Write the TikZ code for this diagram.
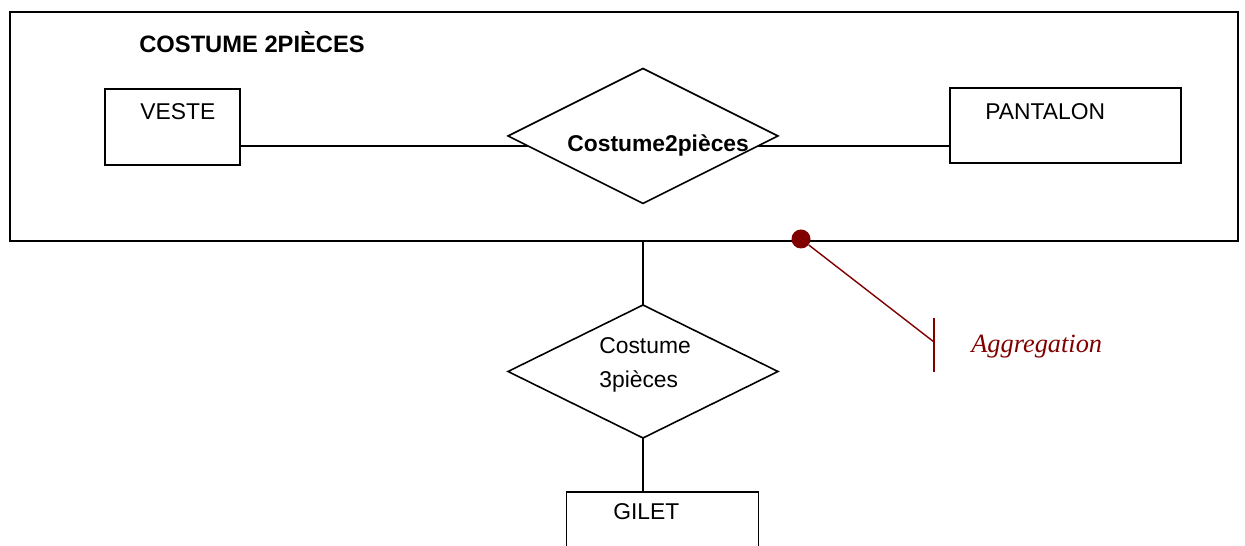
\documentclass[tikz,border=0pt]{standalone}
\usepackage{fontspec}
\setmainfont{Liberation Sans}
\newfontfamily\serifit{Liberation Serif}
\usepackage{tikz}
\usetikzlibrary{arrows.meta,positioning,shapes.geometric,calc}
\definecolor{aggRed}{RGB}{128,0,0}

\begin{document}
\begin{tikzpicture}[x=0.02cm,y=-0.02cm,
  boite/.style={draw,line width=0.9pt,inner sep=0pt,outer sep=0pt},
  losange/.style={draw,diamond,line width=0.9pt,minimum width=5.4cm,minimum height=2.7cm,inner sep=0pt,outer sep=0pt},
  txt/.style={anchor=base west,inner sep=0pt,font=\fontsize{13}{19.3}\selectfont},
  lien/.style={line width=0.9pt},
  agg/.style={aggRed,line width=0.8pt}
]
  \clip (0,0) rectangle (1245,546);
  \node[boite,minimum width=24.56cm,minimum height=4.58cm] (cadre) at (624,126.5) {};
  \node[boite,minimum width=2.7cm,minimum height=1.52cm] (veste) at (172.5,127) {};
  \node[boite,minimum width=4.62cm,minimum height=1.5cm] (pantalon) at (1065.5,125.5) {};
  \node[losange] (c2p) at (643,136) {};
  \node[losange,minimum height=2.66cm] (c3p) at (643,371.5) {};
  \node[boite,minimum width=3.84cm,minimum height=1.8cm,anchor=north] (gilet) at (662.5,492) {};
  \node[txt,font=\fontsize{13.5}{16}\selectfont\bfseries] (titre) at (139,53) {COSTUME 2PIÈCES};
  \node[txt] (tveste) at (140,120) {VESTE};
  \node[txt] (tpantalon) at (985,120) {PANTALON};
  \node[txt,font=\fontsize{13}{16}\selectfont\bfseries] (tc2p) at (567,152) {Costume2pièces};
  \node[txt,anchor=north west,align=left] (tc3p) at (599,337) {Costume\\3pièces};
  \node[txt] (tgilet) at (613,520) {GILET};
  \draw[lien] (c2p.185) -- (c2p.185 -| veste.east);
  \draw[lien] (c2p.-5) -- (c2p.-5 -| pantalon.west);
  \draw[lien] (c3p.north) -- (c3p.north |- cadre.south);
  \draw[lien] (c3p.south) -- (c3p.south |- gilet.north);
  % aggregation
  \node[circle,fill=aggRed,minimum size=0.38cm,inner sep=0pt] (pt) at (801,239) {};
  \coordinate (barre) at (934,342);
  \draw[agg] (pt) -- (barre);
  \draw[agg] (barre) ++(0,-24) -- ++(0,54);
  \node[txt,font=\serifit\itshape\fontsize{15}{18}\selectfont,text=aggRed] (tagg) at (971,353) {Aggregation};
\end{tikzpicture}
\end{document}
